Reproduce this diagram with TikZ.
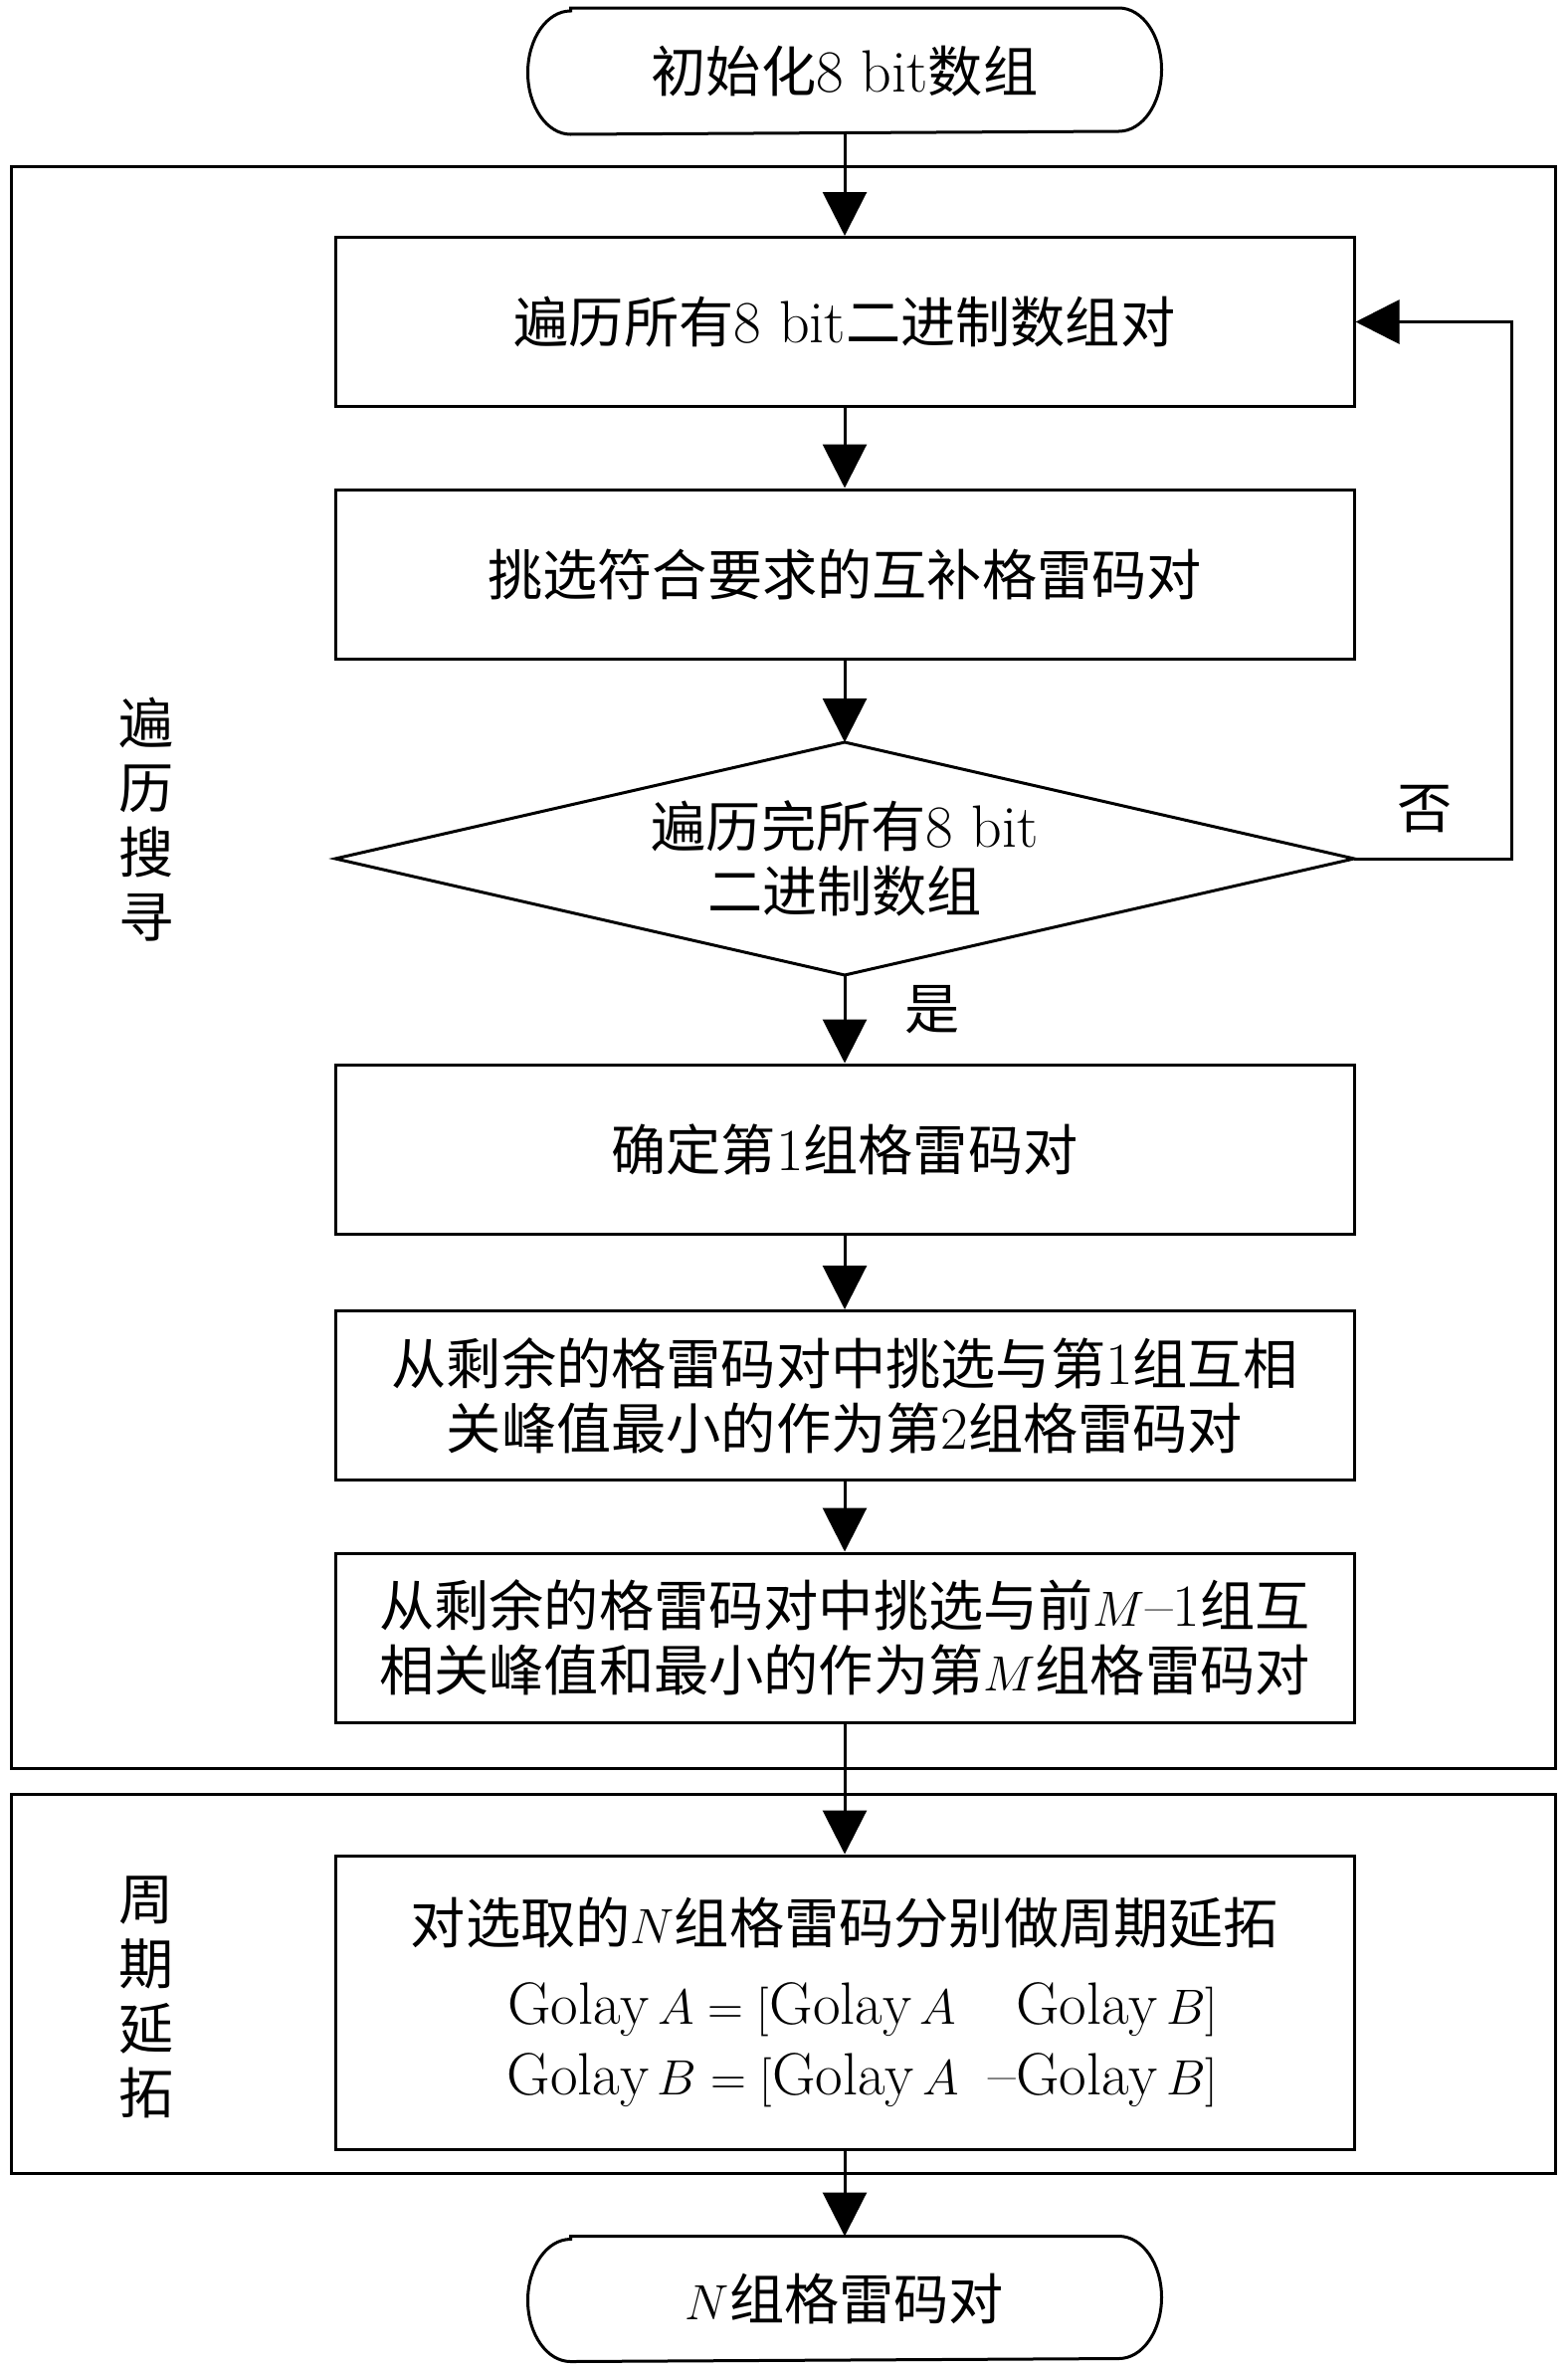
\documentclass[tikz,border=0pt]{standalone}
\usepackage{fontspec}
\newfontfamily\cjk[Scale=0.92]{Noto Sans CJK SC}
\usetikzlibrary{arrows.meta}
\newcommand\lmtxt[1]{{\rmfamily #1}}
\begin{document}
\begin{tikzpicture}[x=0.5pt,y=-0.5pt,line width=1.5pt,
  >={Triangle[length=22pt,width=22pt]},
  font=\cjk\fontsize{30pt}{32.5pt}\selectfont,
  procbox/.style={draw,minimum width=512pt,minimum height=85pt,align=center,inner sep=0pt},
  termtext/.style={minimum width=317pt,minimum height=62pt,inner sep=0pt},
  groupbox/.style={draw,minimum width=776pt,inner sep=0pt},
  sidelbl/.style={align=center,inner sep=0pt}]
\useasboundingbox (0,0) rectangle (1575,2382);

% group frames
\node[groupbox,minimum height=805pt] (g1) at (787,972) {};
\node[groupbox,minimum height=190.5pt] (g2) at (787,1993.5) {};
\node[sidelbl] (l1) at (147,824) {遍\\历\\搜\\寻};
\node[sidelbl] (l2) at (147,2007.5) {周\\期\\延\\拓};

% start terminal
\node[termtext] (st) at (849,71.5) {初始化\lmtxt{8 bit}数组};
\draw ([xshift=21.5pt]st.north west) -- ([xshift=-21.5pt]st.north east)
  arc[start angle=90,end angle=-90,x radius=21.5pt,y radius=31pt]
  -- ([xshift=21.5pt]st.south west)
  arc[start angle=270,end angle=90,x radius=21.5pt,y radius=31pt] -- cycle;

\node[procbox] (b1) at (849,323.5) {遍历所有\lmtxt{8 bit}二进制数组对};
\node[procbox] (b2) at (849,577) {挑选符合要求的互补格雷码对};

% decision
\node[align=center,inner sep=0pt] (dec) at (849,863) {遍历完所有\lmtxt{8 bit}\\二进制数组};
\coordinate (dW) at (337,863);
\coordinate (dN) at (849,746);
\coordinate (dE) at (1361,863);
\coordinate (dS) at (849,980);
\draw (dW) -- (dN) -- (dE) -- (dS) -- cycle;

\node[procbox] (b3) at (849,1155) {确定第\lmtxt{1}组格雷码对};
\node[procbox] (b4) at (849,1402.5) {从剩余的格雷码对中挑选与第\lmtxt{1}组互相\\关峰值最小的作为第\lmtxt{2}组格雷码对};
\node[procbox] (b5) at (849,1646) {从剩余的格雷码对中挑选与前$M$\lmtxt{--1}组互\\相关峰值和最小的作为第$M$组格雷码对};
\node[procbox,minimum height=147.5pt] (b6) at (849,2012.5) {对选取的$N$组格雷码分别做周期延拓\\[8pt]
  \lmtxt{\hspace*{18pt}$\mathrm{Golay}\,A=[\mathrm{Golay}\,A\quad\mathrm{Golay}\,B]$}\\[3pt]
  \lmtxt{\hspace*{18pt}$\mathrm{Golay}\,B=[\mathrm{Golay}\,A\hspace{.5em}$--$\mathrm{Golay}\,B]$}};

% end terminal
\node[termtext,minimum height=61.5pt] (en) at (849,2310.5) {$N$组格雷码对};
\draw ([xshift=21.5pt]en.north west) -- ([xshift=-21.5pt]en.north east)
  arc[start angle=90,end angle=-90,x radius=21.5pt,y radius=30.75pt]
  -- ([xshift=21.5pt]en.south west)
  arc[start angle=270,end angle=90,x radius=21.5pt,y radius=30.75pt] -- cycle;

% connectors
\draw[->] (st.south) -- (b1.north);
\draw[->] (b1.south) -- (b2.north);
\draw[->] (b2.south) -- (dN);
\draw[->] (dS) -- (b3.north);
\draw[->] (b3.south) -- (b4.north);
\draw[->] (b4.south) -- (b5.north);
\draw[->] (b5.south) -- (b6.north);
\draw[->] (b6.south) -- (en.north);
\coordinate (lp) at (1519,863);
\draw[->] (dE) -- (lp) |- (b1.east);

\node[inner sep=0pt] (no) at (1432,813) {否};
\node[inner sep=0pt] (yes) at (937,1015) {是};
\end{tikzpicture}
\end{document}
